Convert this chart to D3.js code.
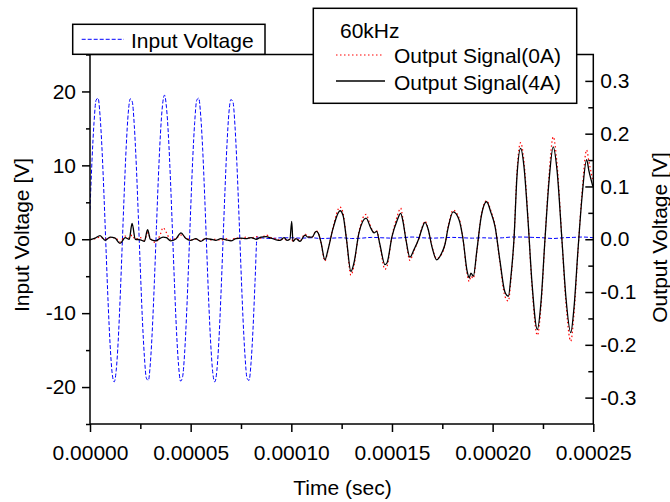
<!DOCTYPE html>
<html>
<head>
<meta charset="utf-8">
<script src="https://cdn.jsdelivr.net/npm/d3@7"></script>
<style>
  html, body { margin: 0; padding: 0; background: #fff; }
  svg { display: block; }
  text { font-family: "Liberation Sans", Arial, sans-serif; fill: #000; }
</style>
</head>
<body>
<svg id="chart" width="670" height="502"></svg>
<script>
// ---------- DATA ----------
// Input voltage (left axis), time in microseconds
const inputTimeUs = [0,1,2,3,4,5,6,7,8,9,10,11,12,13,14,15,16,17,18,19,20,21,22,23,24,25,26,27,28,29,30,31,32,33,34,35,36,37,38,39,40,41,42,43,44,45,46,47,48,49,50,51,52,53,54,55,56,57,58,59,60,61,62,63,64,65,66,67,68,69,70,71,72,73,74,75,76,77,78,79,80,81,82,83,85,90,95,100,105,110,115,120,125,130,135,140,145,150,155,160,165,170,175,180,185,190,195,200,205,210,215,220,225,230,235,240,245,250];
const inputVoltage = [4.0,10.7,15.8,18.8,19.1,16.7,12.0,5.6,-1.6,-8.6,-14.3,-18.1,-19.3,-17.8,-13.8,-7.8,-0.8,6.3,12.6,17.1,19.0,18.6,15.4,10.0,3.2,-4.0,-10.7,-15.8,-18.8,-19.1,-16.7,-12.0,-5.6,1.6,8.6,14.3,18.1,19.5,17.8,13.8,7.8,0.8,-6.3,-12.6,-17.1,-19.2,-18.6,-15.4,-10.0,-3.2,4.0,10.7,15.8,18.8,19.1,16.7,12.0,5.6,-1.6,-8.6,-14.3,-18.1,-19.3,-17.8,-13.8,-7.8,-0.8,6.3,12.6,17.1,18.9,18.6,15.4,10.0,3.2,-4.0,-10.7,-15.8,-18.8,-19.1,-16.7,-12.0,-5.6,0.3,0.2,0.1,0.2,0.2,0.15,0.2,0.1,0.15,0.2,0.1,0.15,0.25,0.2,0.15,0.2,0.3,0.2,0.15,0.2,0.25,0.2,0.15,0.2,0.15,0.2,0.3,0.3,0.25,0.2,0.1,0.2,0.25,0.3,0.2];

// Output signals (right axis), time in microseconds
const outputTimeUs = [0,2.5,5,7.5,10,12.5,14.9,17.5,19.5,20.9,22.5,25,27,28.6,30,32.5,35,36.3,38,40,42.5,45.2,47.5,50,52.5,55,57.5,60,62.5,65,67.5,70,72.5,75,77.5,80,82.5,85,87.5,90,92.5,94.4,96.4,97.8,99.3,100.2,100.8,102.3,104.3,106.8,108.3,110.3,112.3,113.3,114.7,116.7,118.2,120.7,124.2,125.7,127.4,129.6,131.1,133.6,137.1,139.6,141.1,142.4,144.0,146.5,147.5,150.0,152.5,154.3,155.4,156.9,158.9,160.9,163.4,164.9,166.4,167.9,169.9,172.2,174.7,176.3,177.8,180.4,183.3,185.3,187.3,188.4,189.2,190.4,192.2,194.2,197.0,199.2,201.2,203.6,206.1,207.8,209.1,210.6,212.1,213.9,215.5,217.5,219.5,222.2,224.0,226.0,228.0,230.1,232.0,234.4,236.4,238.8,240.4,242.4,244.4,246.7,247.8,249.8];
const output4A = [-0.001,0.002,0.007,-0.002,0.004,0.002,-0.008,0.003,0.0,0.03,0.0,-0.001,-0.004,0.018,0.0,-0.003,0.002,0.004,0.003,-0.003,0.0,0.012,0.002,-0.002,0.001,-0.004,0.001,0.0,-0.002,0.001,-0.001,-0.003,0.001,0.002,0.001,0.003,0.0,0.004,0.005,0.002,-0.001,-0.002,0.003,-0.002,0.0,0.034,-0.004,0.001,-0.004,0.008,0.004,0.004,0.015,0.012,-0.005,-0.039,-0.02,0.02,0.054,0.045,0.0,-0.061,-0.045,0.012,0.04,0.02,0.012,0.015,-0.01,-0.048,-0.045,0.005,0.035,0.049,0.035,0.0,-0.034,-0.02,0.002,0.02,0.032,0.02,-0.015,-0.039,-0.026,-0.01,0.02,0.052,0.037,0.0,-0.06,-0.073,-0.064,-0.07,-0.02,0.04,0.071,0.05,0.024,-0.04,-0.1,-0.108,-0.07,0.0,0.12,0.172,0.14,0.04,-0.08,-0.171,-0.12,0.0,0.11,0.175,0.13,0.0,-0.11,-0.177,-0.13,-0.02,0.08,0.151,0.13,0.1];
const output0A = [-0.001,0.001,0.004,0.0,0.003,0.003,-0.005,0.006,0.002,0.008,0.0,0.003,-0.002,0.012,0.002,-0.006,0.01,0.022,0.012,0.0,0.001,0.008,0.003,-0.001,0.0,-0.003,0.002,-0.001,0.0,-0.002,0.001,-0.002,0.003,0.001,0.004,0.002,0.005,0.002,0.008,0.003,0.001,-0.002,0.002,-0.002,0.0,0.0,-0.004,0.002,-0.003,0.01,0.005,0.004,0.016,0.013,-0.006,-0.041,-0.022,0.022,0.061,0.05,0.0,-0.068,-0.05,0.014,0.047,0.022,0.013,0.016,-0.011,-0.057,-0.052,0.006,0.042,0.059,0.04,0.0,-0.04,-0.022,0.002,0.022,0.034,0.021,-0.014,-0.036,-0.028,-0.011,0.022,0.055,0.04,0.0,-0.066,-0.08,-0.07,-0.074,-0.022,0.042,0.073,0.053,0.026,-0.043,-0.108,-0.117,-0.076,0.0,0.128,0.183,0.15,0.043,-0.086,-0.182,-0.128,0.0,0.12,0.194,0.142,0.0,-0.12,-0.193,-0.142,-0.022,0.088,0.169,0.148,0.11];

// Ticks
const xTicks = [0, 0.00005, 0.0001, 0.00015, 0.0002, 0.00025];
const xTickLabels = ["0.00000","0.00005","0.00010","0.00015","0.00020","0.00025"];
const xMinorTicks = [0.000025, 0.000075, 0.000125, 0.000175, 0.000225];
const yLeftTicks = [20, 10, 0, -10, -20];
const yLeftTickLabels = ["20","10","0","-10","-20"];
const yLeftMinorTicks = [25, 15, 5, -5, -15, -25];
const yRightTicks = [0.3, 0.2, 0.1, 0.0, -0.1, -0.2, -0.3];
const yRightTickLabels = ["0.3","0.2","0.1","0.0","-0.1","-0.2","-0.3"];
const yRightMinorTicks = [0.25, 0.15, 0.05, -0.05, -0.15, -0.25];

const seriesNames = ["Input Voltage", "Output Signal(0A)", "Output Signal(4A)"];
const legendTitle = "60kHz";

// ---------- LAYOUT ----------
const L = 90, R = 593.3, T = 54.5, B = 424;
const FONT = 21;

const svg = d3.select("#chart");

const x = d3.scaleLinear().domain([0, 0.00025]).range([L, R]);
const yL = d3.scaleLinear().domain([-25, 25]).range([B, T]);
const yR = d3.scaleLinear().domain([-0.35, 0.35]).range([B, T]);

// clip
svg.append("defs").append("clipPath").attr("id", "plotclip")
  .append("rect").attr("x", L).attr("y", T - 1).attr("width", R - L).attr("height", B - T + 2);

// ---------- DATA LINES ----------
const inputData = inputTimeUs.map((t, i) => ({ t: t * 1e-6, v: inputVoltage[i] }));
const out0 = outputTimeUs.map((t, i) => ({ t: t * 1e-6, v: output0A[i] }));
const out4 = outputTimeUs.map((t, i) => ({ t: t * 1e-6, v: output4A[i] }));

const gData = svg.append("g").attr("clip-path", "url(#plotclip)");

gData.append("path").datum(inputData)
  .attr("fill", "none").attr("stroke", "#0000ff").attr("stroke-width", 1)
  .attr("stroke-dasharray", "4,2")
  .attr("d", d3.line().x(d => x(d.t)).y(d => yL(d.v)).curve(d3.curveMonotoneX));

gData.append("path").datum(out0)
  .attr("fill", "none").attr("stroke", "#ff0000").attr("stroke-width", 1.2)
  .attr("stroke-dasharray", "1.5,2.5")
  .attr("d", d3.line().x(d => x(d.t)).y(d => yR(d.v)).curve(d3.curveMonotoneX));

gData.append("path").datum(out4)
  .attr("fill", "none").attr("stroke", "#000").attr("stroke-width", 1.3)
  .attr("d", d3.line().x(d => x(d.t)).y(d => yR(d.v)).curve(d3.curveMonotoneX));

// ---------- AXES ----------
const axisStroke = 1.5;
function styleAxis(g) {
  g.select(".domain").remove();
  g.selectAll("line").attr("stroke", "#000").attr("stroke-width", axisStroke);
  g.selectAll("text").attr("font-size", FONT).attr("font-family", '"Liberation Sans", Arial, sans-serif').attr("fill", "#000");
}

// Frame
svg.append("rect").attr("x", L).attr("y", T).attr("width", R - L).attr("height", B - T)
  .attr("fill", "none").attr("stroke", "#000").attr("stroke-width", axisStroke);

// Bottom axis
const gx = svg.append("g").attr("transform", `translate(0,${B})`)
  .call(d3.axisBottom(x).tickValues(xTicks).tickFormat((d, i) => xTickLabels[i]).tickSize(8).tickPadding(13));
styleAxis(gx);
svg.append("g").attr("transform", `translate(0,${B})`)
  .call(d3.axisBottom(x).tickValues(xMinorTicks).tickFormat("").tickSize(5))
  .call(g => { g.select(".domain").remove(); g.selectAll("line").attr("stroke", "#000").attr("stroke-width", axisStroke); });

// Left axis
const gyl = svg.append("g").attr("transform", `translate(${L},0)`)
  .call(d3.axisLeft(yL).tickValues(yLeftTicks).tickFormat((d, i) => yLeftTickLabels[i]).tickSize(8).tickPadding(6));
styleAxis(gyl);
svg.append("g").attr("transform", `translate(${L},0)`)
  .call(d3.axisLeft(yL).tickValues(yLeftMinorTicks).tickFormat("").tickSize(4))
  .call(g => { g.select(".domain").remove(); g.selectAll("line").attr("stroke", "#000").attr("stroke-width", axisStroke); });

// Right axis (ticks inward, labels outside)
const gyr = svg.append("g").attr("transform", `translate(${R},0)`)
  .call(d3.axisRight(yR).tickValues(yRightTicks).tickFormat((d, i) => yRightTickLabels[i]).tickSize(0).tickPadding(7));
styleAxis(gyr);
gyr.selectAll(".tick line").remove();
svg.append("g").attr("transform", `translate(${R},0)`)
  .call(d3.axisLeft(yR).tickValues(yRightTicks).tickFormat("").tickSize(8))
  .call(g => { g.select(".domain").remove(); g.selectAll("line").attr("stroke", "#000").attr("stroke-width", axisStroke); });
svg.append("g").attr("transform", `translate(${R},0)`)
  .call(d3.axisLeft(yR).tickValues(yRightMinorTicks).tickFormat("").tickSize(5))
  .call(g => { g.select(".domain").remove(); g.selectAll("line").attr("stroke", "#000").attr("stroke-width", axisStroke); });

// Axis titles
svg.append("text").attr("x", 342.5).attr("y", 495).attr("text-anchor", "middle")
  .attr("font-size", FONT).text("Time (sec)");
svg.append("text").attr("transform", "translate(29,235) rotate(-90)").attr("text-anchor", "middle")
  .attr("font-size", FONT).text("Input Voltage [V]");
svg.append("text").attr("transform", "translate(667,237.5) rotate(-90)").attr("text-anchor", "middle")
  .attr("font-size", FONT).text("Output Voltage [V]");

// ---------- LEGENDS ----------
const leg1 = svg.append("g");
leg1.append("rect").attr("x", 72.7).attr("y", 24.3).attr("width", 192.3).attr("height", 30)
  .attr("fill", "#fff").attr("stroke", "#000").attr("stroke-width", axisStroke);
leg1.append("line").attr("x1", 81.7).attr("x2", 124).attr("y1", 39.3).attr("y2", 39.3)
  .attr("stroke", "#0000ff").attr("stroke-width", 1).attr("stroke-dasharray", "4,2");
leg1.append("text").attr("x", 131).attr("y", 47.5).attr("font-size", FONT).text(seriesNames[0]);

const leg2 = svg.append("g");
leg2.append("rect").attr("x", 313.3).attr("y", 8.3).attr("width", 263.4).attr("height", 95)
  .attr("fill", "#fff").attr("stroke", "#000").attr("stroke-width", axisStroke);
leg2.append("text").attr("x", 340).attr("y", 37.5).attr("font-size", FONT).text(legendTitle);
leg2.append("line").attr("x1", 336).attr("x2", 382).attr("y1", 55).attr("y2", 55)
  .attr("stroke", "#ff0000").attr("stroke-width", 1.2).attr("stroke-dasharray", "1.5,2.5");
leg2.append("text").attr("x", 394).attr("y", 63).attr("font-size", FONT).text(seriesNames[1]);
leg2.append("line").attr("x1", 336).attr("x2", 385).attr("y1", 81).attr("y2", 81)
  .attr("stroke", "#000").attr("stroke-width", 1.3);
leg2.append("text").attr("x", 394).attr("y", 90).attr("font-size", FONT).text(seriesNames[2]);
</script>
</body>
</html>
